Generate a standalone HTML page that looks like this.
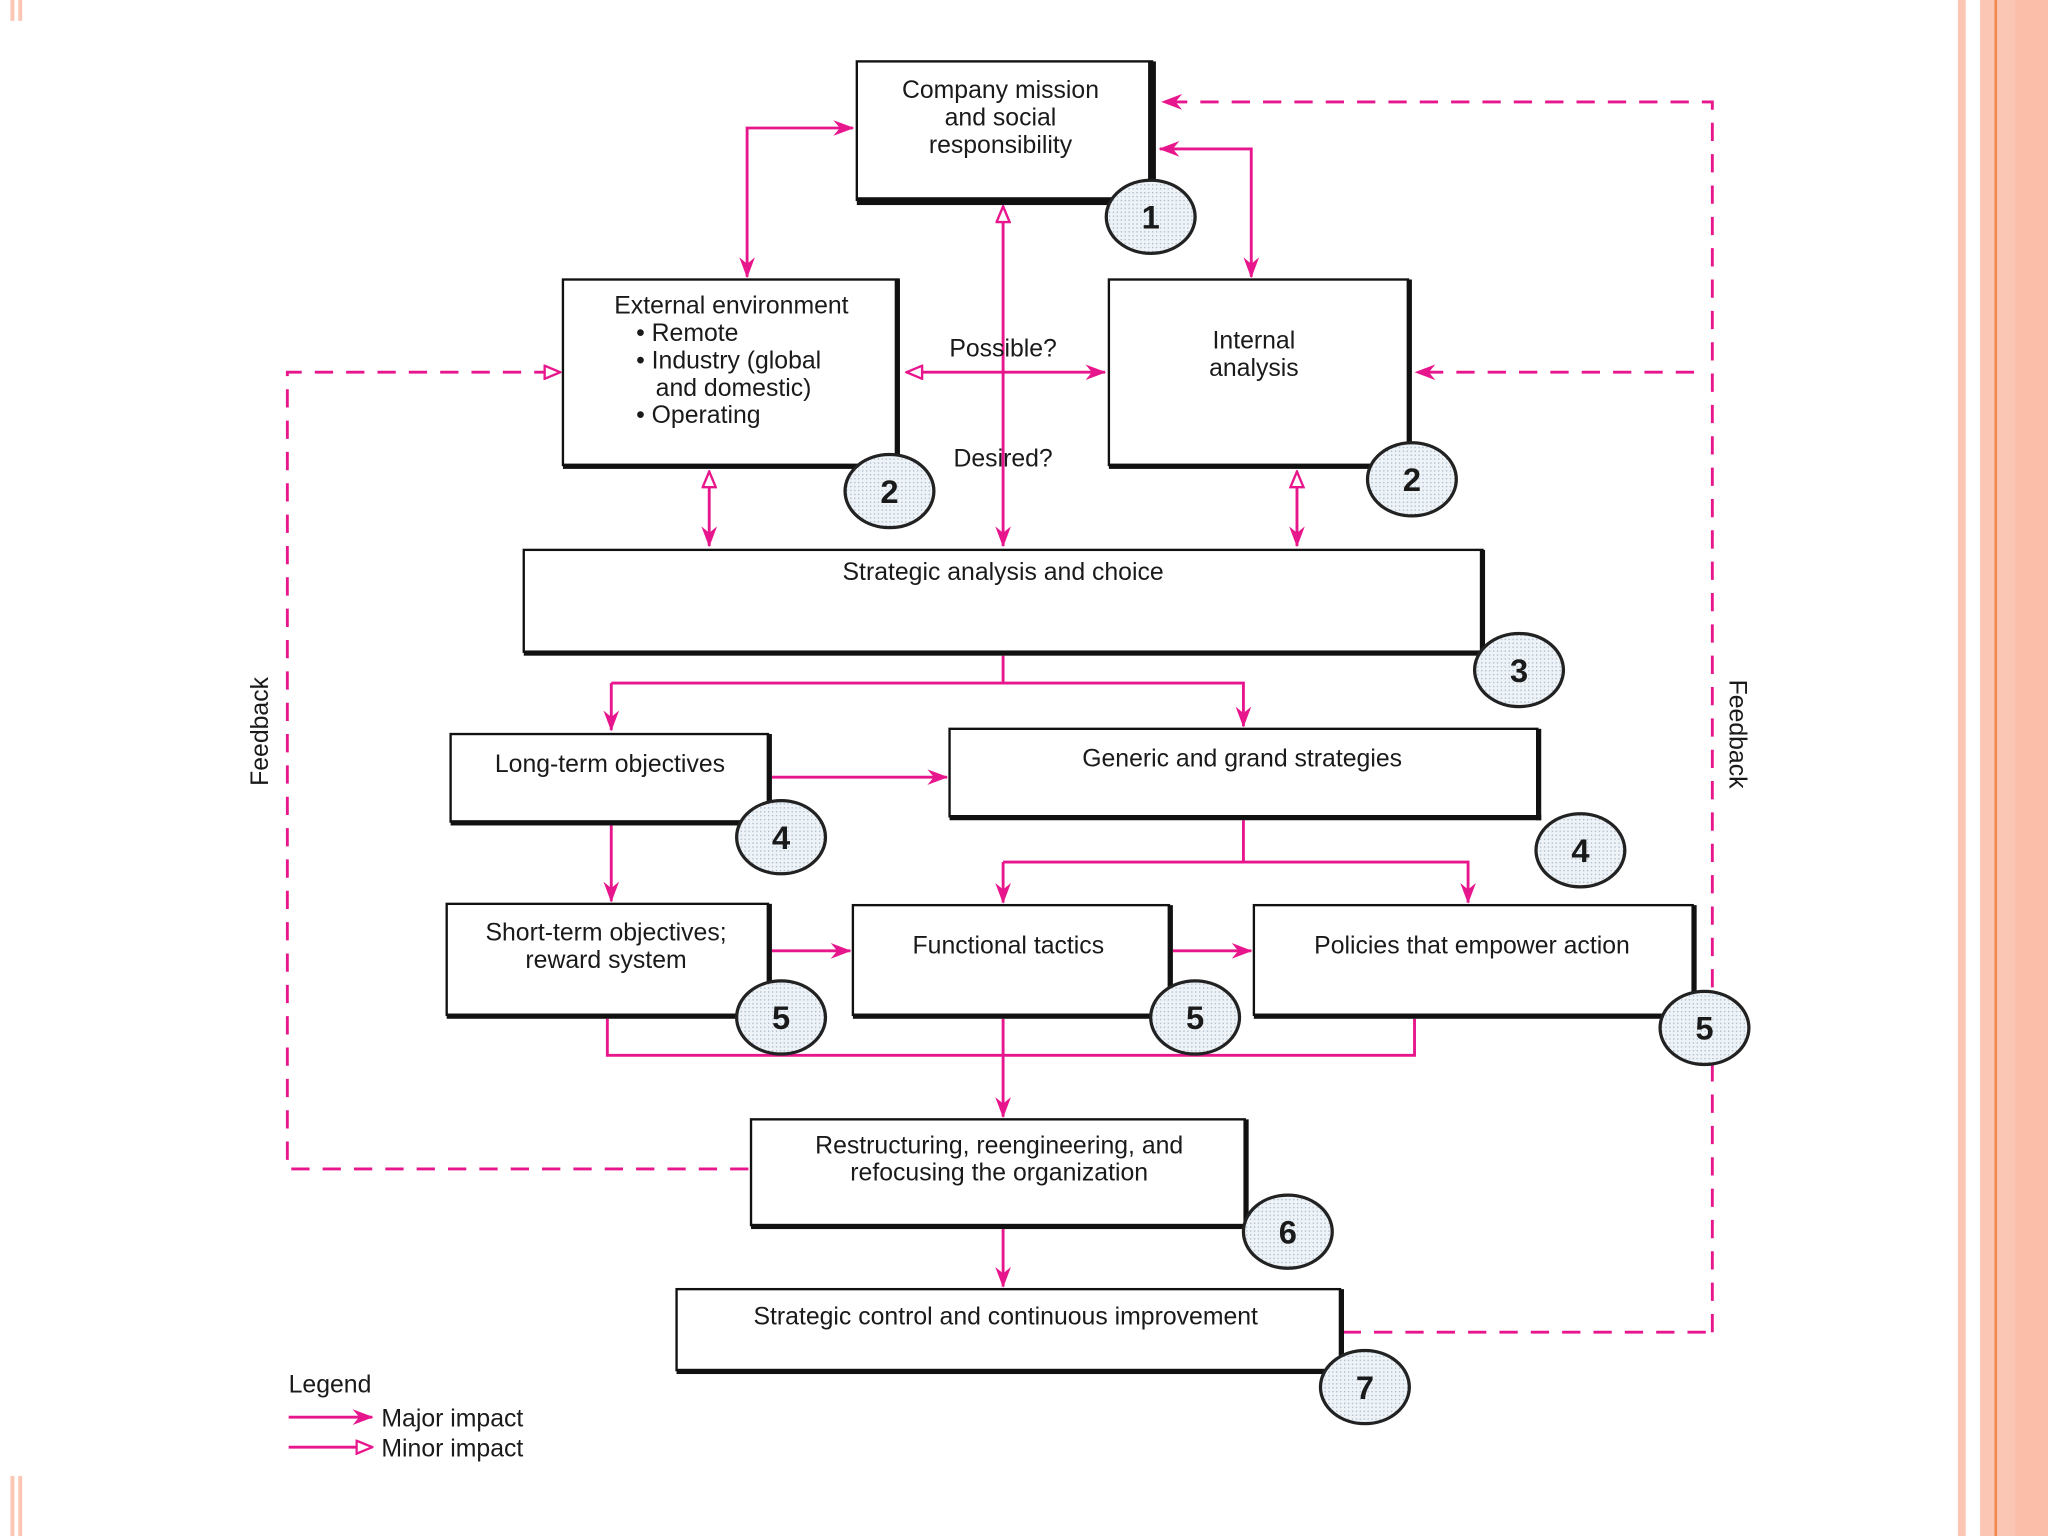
<!DOCTYPE html>
<html><head><meta charset="utf-8"><style>
html,body{margin:0;padding:0;background:#fff;}
svg{display:block;}
text{font-family:"Liberation Sans",Arial,sans-serif;fill:#1a1a1a;}
</style></head><body>
<svg width="2048" height="1536" viewBox="0 0 1568 1176" xmlns="http://www.w3.org/2000/svg">
<defs>
<marker id="a" markerWidth="16" markerHeight="14" refX="15" refY="7" orient="auto-start-reverse" markerUnits="userSpaceOnUse" viewBox="0 0 16 14"><path d="M0,1 L16,7 L0,13 L5,7 Z" fill="#e8168c"/></marker>
<marker id="o" markerWidth="14" markerHeight="12" refX="13" refY="6" orient="auto-start-reverse" markerUnits="userSpaceOnUse" viewBox="0 0 14 12"><path d="M1,1 L13,6 L1,11 Z" fill="#fff" stroke="#e8168c" stroke-width="1.8"/></marker>
<pattern id="dots" width="3" height="3" patternUnits="userSpaceOnUse"><rect width="3" height="3" fill="#eef3f8"/><rect width="1" height="1" fill="#a8b8c8"/></pattern>
</defs>
<!-- borders -->
<rect x="1499" y="0" width="6" height="1176" fill="#fcc6b4"/>
<rect x="1516" y="0" width="52" height="1176" fill="#fcc6b4"/>
<rect x="1527" y="0" width="2" height="1176" fill="#f08a50"/>
<rect x="1543" y="0" width="25" height="1176" fill="#fbbfa9"/>
<rect x="8" y="0" width="3" height="16" fill="#fcc6b4"/><rect x="14" y="0" width="3" height="16" fill="#fcc6b4"/>
<rect x="8" y="1130" width="3" height="46" fill="#fcc6b4"/><rect x="14" y="1130" width="3" height="46" fill="#fcc6b4"/>

<g stroke="#e8168c" stroke-width="2.2" fill="none">
<g stroke-dasharray="14,10">
<polyline points="1311,1020 1311,78 890,78" marker-end="url(#a)"/>
<line x1="1028" y1="1020" x2="1311" y2="1020"/>
<line x1="1297" y1="285" x2="1084" y2="285" marker-end="url(#a)"/>
<polyline points="573,895 220,895 220,285 429,285" marker-end="url(#o)"/>
</g>
<polyline points="572,212 572,98 653,98" marker-end="url(#a)" marker-start="url(#a)"/>
<polyline points="888,114 958,114 958,212" marker-end="url(#a)" marker-start="url(#a)"/>
<line x1="694" y1="285" x2="846" y2="285" marker-end="url(#a)" marker-start="url(#o)"/>
<line x1="768" y1="158" x2="768" y2="418" marker-end="url(#a)" marker-start="url(#o)"/>
<line x1="543" y1="361" x2="543" y2="418" marker-end="url(#a)" marker-start="url(#o)"/>
<line x1="993" y1="361" x2="993" y2="418" marker-end="url(#a)" marker-start="url(#o)"/>
<line x1="768" y1="502" x2="768" y2="523"/>
<polyline points="468,523 952,523 952,556" marker-end="url(#a)"/>
<line x1="468" y1="523" x2="468" y2="559" marker-end="url(#a)"/>
<line x1="591" y1="595" x2="725" y2="595" marker-end="url(#a)"/>
<line x1="468" y1="632" x2="468" y2="690" marker-end="url(#a)"/>
<line x1="952" y1="628" x2="952" y2="660"/>
<polyline points="768,660 1124,660 1124,691" marker-end="url(#a)"/>
<line x1="768" y1="660" x2="768" y2="691" marker-end="url(#a)"/>
<line x1="591" y1="728" x2="651" y2="728" marker-end="url(#a)"/>
<line x1="898" y1="728" x2="958" y2="728" marker-end="url(#a)"/>
<polyline points="465,780 465,808 1083,808 1083,780"/>
<line x1="768" y1="780" x2="768" y2="855" marker-end="url(#a)"/>
<line x1="768" y1="941" x2="768" y2="985" marker-end="url(#a)"/>
<line x1="221" y1="1085" x2="285" y2="1085" marker-end="url(#a)"/>
<line x1="221" y1="1108" x2="285" y2="1108" marker-end="url(#o)"/>
</g>

<g stroke="#111" fill="#fff" stroke-width="1.8">
<rect x="656" y="47" width="226" height="106"/>
<rect x="431" y="214" width="257" height="142"/>
<rect x="849" y="214" width="229" height="142"/>
<rect x="401" y="421" width="734" height="78"/>
<rect x="345" y="562" width="243" height="67"/>
<rect x="727" y="558" width="450" height="67"/>
<rect x="342" y="692" width="246" height="85"/>
<rect x="653" y="693" width="242" height="84"/>
<rect x="960" y="693" width="336" height="84"/>
<rect x="575" y="857" width="378" height="81"/>
<rect x="518" y="987" width="508" height="62"/>
</g>
<g fill="#111">
<rect x="879" y="47" width="6" height="110"/><rect x="656" y="151" width="229" height="6"/>
<rect x="685" y="214" width="4" height="145"/><rect x="431" y="355" width="258" height="4"/>
<rect x="1077" y="214" width="4" height="145"/><rect x="849" y="355" width="232" height="4"/>
<rect x="1133" y="421" width="4" height="81"/><rect x="401" y="498" width="736" height="4"/>
<rect x="587" y="562" width="4" height="70"/><rect x="345" y="628" width="246" height="4"/>
<rect x="1176" y="558" width="4" height="70"/><rect x="727" y="624" width="453" height="4"/>
<rect x="587" y="692" width="4" height="88"/><rect x="342" y="776" width="249" height="4"/>
<rect x="894" y="693" width="4" height="87"/><rect x="653" y="776" width="245" height="4"/>
<rect x="1295" y="693" width="4" height="87"/><rect x="960" y="776" width="339" height="4"/>
<rect x="952" y="857" width="4" height="84"/><rect x="575" y="937" width="381" height="4"/>
<rect x="1025" y="987" width="4" height="65"/><rect x="518" y="1048" width="511" height="4"/>
</g>

<g fill="url(#dots)" stroke="#222" stroke-width="2.5">
<ellipse cx="881" cy="166" rx="34" ry="28"/>
<ellipse cx="681" cy="376" rx="34" ry="28"/>
<ellipse cx="1081" cy="367" rx="34" ry="28"/>
<ellipse cx="1163" cy="513" rx="34" ry="28"/>
<ellipse cx="598" cy="641" rx="34" ry="28"/>
<ellipse cx="1210" cy="651" rx="34" ry="28"/>
<ellipse cx="598" cy="779" rx="34" ry="28"/>
<ellipse cx="915" cy="779" rx="34" ry="28"/>
<ellipse cx="1305" cy="787" rx="34" ry="28"/>
<ellipse cx="986" cy="943" rx="34" ry="28"/>
<ellipse cx="1045" cy="1062" rx="34" ry="28"/>
</g>
<g font-size="25" font-weight="bold" text-anchor="middle">
<text x="881" y="175">1</text><text x="681" y="385">2</text><text x="1081" y="376">2</text>
<text x="1163" y="522">3</text><text x="598" y="650">4</text><text x="1210" y="660">4</text>
<text x="598" y="788">5</text><text x="915" y="788">5</text><text x="1305" y="796">5</text>
<text x="986" y="952">6</text><text x="1045" y="1071">7</text>
</g>

<g font-size="19" text-anchor="middle">
<text x="766" y="75">Company mission</text>
<text x="766" y="96">and social</text>
<text x="766" y="117">responsibility</text>
<text x="560" y="240">External environment</text>
<text x="960" y="267">Internal</text>
<text x="960" y="288">analysis</text>
<text x="768" y="444">Strategic analysis and choice</text>
<text x="467" y="591">Long-term objectives</text>
<text x="951" y="587">Generic and grand strategies</text>
<text x="464" y="720">Short-term objectives;</text>
<text x="464" y="741">reward system</text>
<text x="772" y="730">Functional tactics</text>
<text x="1127" y="730">Policies that empower action</text>
<text x="765" y="883">Restructuring, reengineering, and</text>
<text x="765" y="904">refocusing the organization</text>
<text x="770" y="1014">Strategic control and continuous improvement</text>
<text x="768" y="273">Possible?</text>
<text x="768" y="357">Desired?</text>
</g>
<g font-size="19">
<text x="487" y="261">• Remote</text>
<text x="487" y="282">• Industry (global</text>
<text x="502" y="303">and domestic)</text>
<text x="487" y="324">• Operating</text>
<text x="221" y="1066">Legend</text>
<text x="292" y="1092">Major impact</text>
<text x="292" y="1115">Minor impact</text>
</g>
<text font-size="19" text-anchor="middle" transform="translate(205,560) rotate(-90)">Feedback</text>
<text font-size="19" text-anchor="middle" transform="translate(1324,562) rotate(90)">Feedback</text>
</svg>
</body></html>
